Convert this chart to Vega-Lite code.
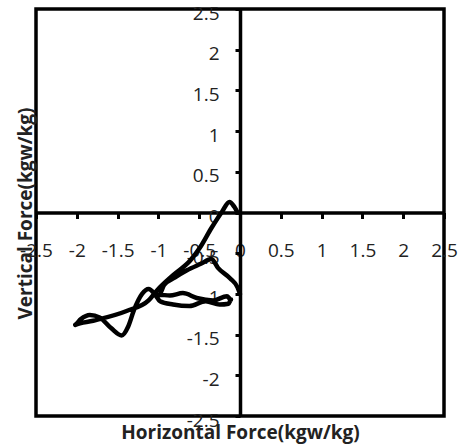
{
  "$schema": "https://vega.github.io/schema/vega-lite/v6.json",
  "width": 408,
  "height": 407,
  "autosize": {"type": "none"},
  "padding": {"left": 36, "top": 9, "right": 22, "bottom": 32},
  "background": "white",
  "config": {"view": {"stroke": "black", "strokeWidth": 3.5}, "font": "Open Sans"},
  "data": {"values": [
    {"i": 1, "h": -0.03, "v": 0.0},
    {"i": 2, "h": -0.07, "v": 0.07},
    {"i": 3, "h": -0.13, "v": 0.13},
    {"i": 4, "h": -0.22, "v": 0.01},
    {"i": 5, "h": -0.35, "v": -0.19},
    {"i": 6, "h": -0.49, "v": -0.43},
    {"i": 7, "h": -0.61, "v": -0.59},
    {"i": 8, "h": -0.82, "v": -0.77},
    {"i": 9, "h": -1.02, "v": -0.96},
    {"i": 10, "h": -1.12, "v": -1.08},
    {"i": 11, "h": -1.39, "v": -1.21},
    {"i": 12, "h": -1.8, "v": -1.33},
    {"i": 13, "h": -2.02, "v": -1.38},
    {"i": 14, "h": -1.95, "v": -1.31},
    {"i": 15, "h": -1.84, "v": -1.26},
    {"i": 16, "h": -1.72, "v": -1.29},
    {"i": 17, "h": -1.58, "v": -1.42},
    {"i": 18, "h": -1.45, "v": -1.51},
    {"i": 19, "h": -1.37, "v": -1.4},
    {"i": 20, "h": -1.3, "v": -1.2},
    {"i": 21, "h": -1.2, "v": -1.0},
    {"i": 22, "h": -1.12, "v": -0.94},
    {"i": 23, "h": -1.04, "v": -1.01},
    {"i": 24, "h": -0.98, "v": -1.09},
    {"i": 25, "h": -0.82, "v": -1.13},
    {"i": 26, "h": -0.62, "v": -1.15},
    {"i": 27, "h": -0.42, "v": -1.09},
    {"i": 28, "h": -0.25, "v": -1.13},
    {"i": 29, "h": -0.14, "v": -1.12},
    {"i": 30, "h": -0.11, "v": -1.07},
    {"i": 31, "h": -0.16, "v": -1.03},
    {"i": 32, "h": -0.33, "v": -1.08},
    {"i": 33, "h": -0.53, "v": -1.05},
    {"i": 34, "h": -0.7, "v": -0.99},
    {"i": 35, "h": -0.86, "v": -1.02},
    {"i": 36, "h": -0.99, "v": -1.01},
    {"i": 37, "h": -0.93, "v": -0.89},
    {"i": 38, "h": -0.8, "v": -0.8},
    {"i": 39, "h": -0.65, "v": -0.71},
    {"i": 40, "h": -0.48, "v": -0.63},
    {"i": 41, "h": -0.35, "v": -0.57},
    {"i": 42, "h": -0.27, "v": -0.68},
    {"i": 43, "h": -0.12, "v": -0.81},
    {"i": 44, "h": -0.03, "v": -0.92},
    {"i": 45, "h": 0.0, "v": -1.0}
  ]},
  "mark": {"type": "line", "color": "black", "strokeWidth": 4.5, "strokeJoin": "round", "strokeCap": "round", "interpolate": "monotone"},
  "encoding": {
    "order": {"field": "i", "type": "quantitative"},
    "x": {
      "field": "h", "type": "quantitative",
      "scale": {"domain": [-2.5, 2.5], "nice": false, "zero": false},
      "axis": {
        "title": "Horizontal Force(kgw/kg)",
        "values": [-2.5, -2, -1.5, -1, -0.5, 0, 0.5, 1, 1.5, 2, 2.5],
        "labelExpr": "toString(datum.value)",
        "offset": -203.5,
        "grid": false,
        "domainColor": "black", "domainWidth": 3.5,
        "tickColor": "black", "tickWidth": 3, "tickSize": 6,
        "labelPadding": 23, "labelFontSize": 19, "labelColor": "#222",
        "labelFlush": false, "labelOverlap": false,
        "titleFontSize": 19, "titleFontWeight": "bold", "titleColor": "#222",
        "titleX": 204, "titleY": 220, "titleBaseline": "middle"
      }
    },
    "y": {
      "field": "v", "type": "quantitative",
      "scale": {"domain": [-2.5, 2.5], "nice": false, "zero": false},
      "axis": {
        "title": "Vertical Force(kgw/kg)",
        "values": [-2.5, -2, -1.5, -1, -0.5, 0, 0.5, 1, 1.5, 2, 2.5],
        "labelExpr": "toString(datum.value)",
        "offset": -204,
        "grid": false,
        "domainColor": "black", "domainWidth": 3.5,
        "tickColor": "black", "tickWidth": 3, "tickSize": 5,
        "labelPadding": 16, "labelOffset": 4, "labelFontSize": 19, "labelColor": "#222",
        "labelFlush": false, "labelOverlap": false,
        "titleFontSize": 19, "titleFontWeight": "bold", "titleColor": "#222",
        "titleX": -215, "titleY": 204, "titleBaseline": "middle", "titleAngle": -90
      }
    }
  }
}
